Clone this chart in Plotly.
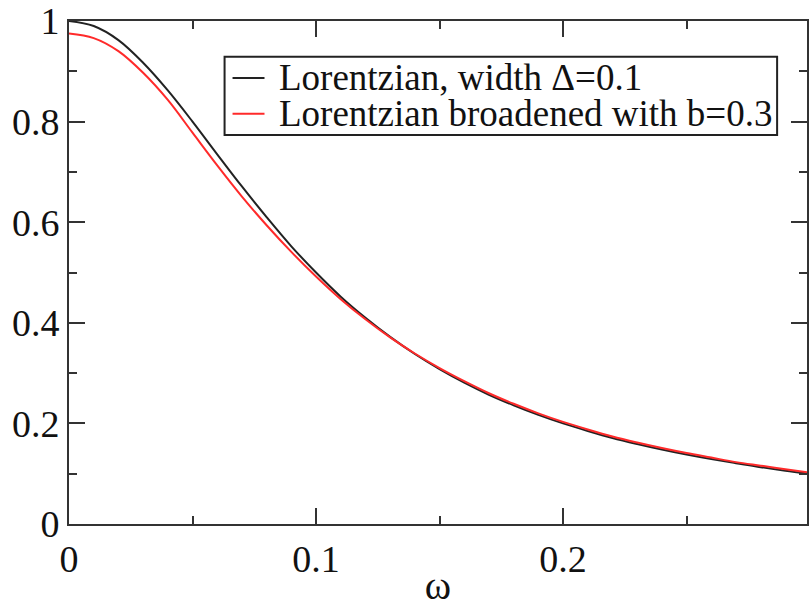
import plotly.graph_objects as go

omega = [0.00, 0.01, 0.02, 0.03, 0.04, 0.05, 0.06, 0.07, 0.08, 0.09, 0.10,
         0.11, 0.12, 0.13, 0.14, 0.15, 0.16, 0.17, 0.18, 0.19, 0.20,
         0.21, 0.22, 0.23, 0.24, 0.25, 0.26, 0.27, 0.28, 0.29, 0.30]
lorentzian = [1.000, 0.990, 0.962, 0.917, 0.862, 0.800, 0.735, 0.671, 0.610, 0.552, 0.500,
              0.452, 0.410, 0.372, 0.338, 0.308, 0.281, 0.257, 0.236, 0.217, 0.200,
              0.185, 0.171, 0.159, 0.148, 0.138, 0.129, 0.121, 0.113, 0.106, 0.100]
broadened = [0.975, 0.966, 0.940, 0.897, 0.843, 0.778, 0.713, 0.651, 0.594, 0.541, 0.492,
             0.447, 0.407, 0.371, 0.339, 0.310, 0.284, 0.260, 0.239, 0.220, 0.203,
             0.188, 0.174, 0.162, 0.151, 0.141, 0.132, 0.123, 0.116, 0.109, 0.102]
series_names = ["Lorentzian, width \u0394=0.1", "Lorentzian broadened with b=0.3"]
series_colors = ["#222222", "#ff2a2a"]

FONT = "Liberation Serif"

fig = go.Figure()
for ys, name, col in zip([lorentzian, broadened], series_names, series_colors):
    fig.add_trace(go.Scatter(x=omega, y=ys, mode="lines", name=name,
                             line=dict(color=col, width=2, shape="spline"),
                             showlegend=False))

# manual legend (compact, xmgrace style)
lx0, lx1, ly0, ly1 = 0.2108, 0.9595, 0.7735, 0.929
row_y = [0.8868, 0.8157]
fig.add_shape(type="rect", xref="paper", yref="paper", x0=lx0, x1=lx1, y0=ly0, y1=ly1,
              line=dict(color="#222222", width=2), fillcolor="white", layer="above")
for ry, name, col in zip(row_y, series_names, series_colors):
    fig.add_shape(type="line", xref="paper", yref="paper", x0=0.2216, x1=0.2649, y0=ry, y1=ry,
                  line=dict(color=col, width=2), layer="above")
    fig.add_annotation(xref="paper", yref="paper", x=0.2824, y=ry, text=name,
                       showarrow=False, xanchor="left", yanchor="middle",
                       font=dict(family=FONT, size=37, color="#111111"))

axis_common = dict(showline=True, linecolor="#333333", linewidth=2, mirror="allticks",
                   ticks="inside", ticklen=16, tickwidth=2, tickcolor="#333333",
                   showgrid=False, zeroline=False,
                   tickfont=dict(family=FONT, size=38, color="#111111"))

fig.update_xaxes(range=[0, 0.29875], dtick=0.1, tick0=0,
                 minor=dict(dtick=0.05, ticks="inside", ticklen=8, tickwidth=2,
                            tickcolor="#333333", showgrid=False),
                 title=dict(text="\u03c9", font=dict(family=FONT, size=40, color="#111111"),
                            standoff=0),
                 **axis_common)
fig.update_yaxes(range=[0, 1], dtick=0.2, tick0=0,
                 minor=dict(dtick=0.1, ticks="inside", ticklen=8, tickwidth=2,
                            tickcolor="#333333", showgrid=False),
                 **axis_common)

fig.update_layout(width=809, height=608,
                  margin=dict(l=69, r=0, t=21, b=66),
                  plot_bgcolor="white", paper_bgcolor="white",
                  font=dict(family=FONT))

fig.write_html("out.html")
